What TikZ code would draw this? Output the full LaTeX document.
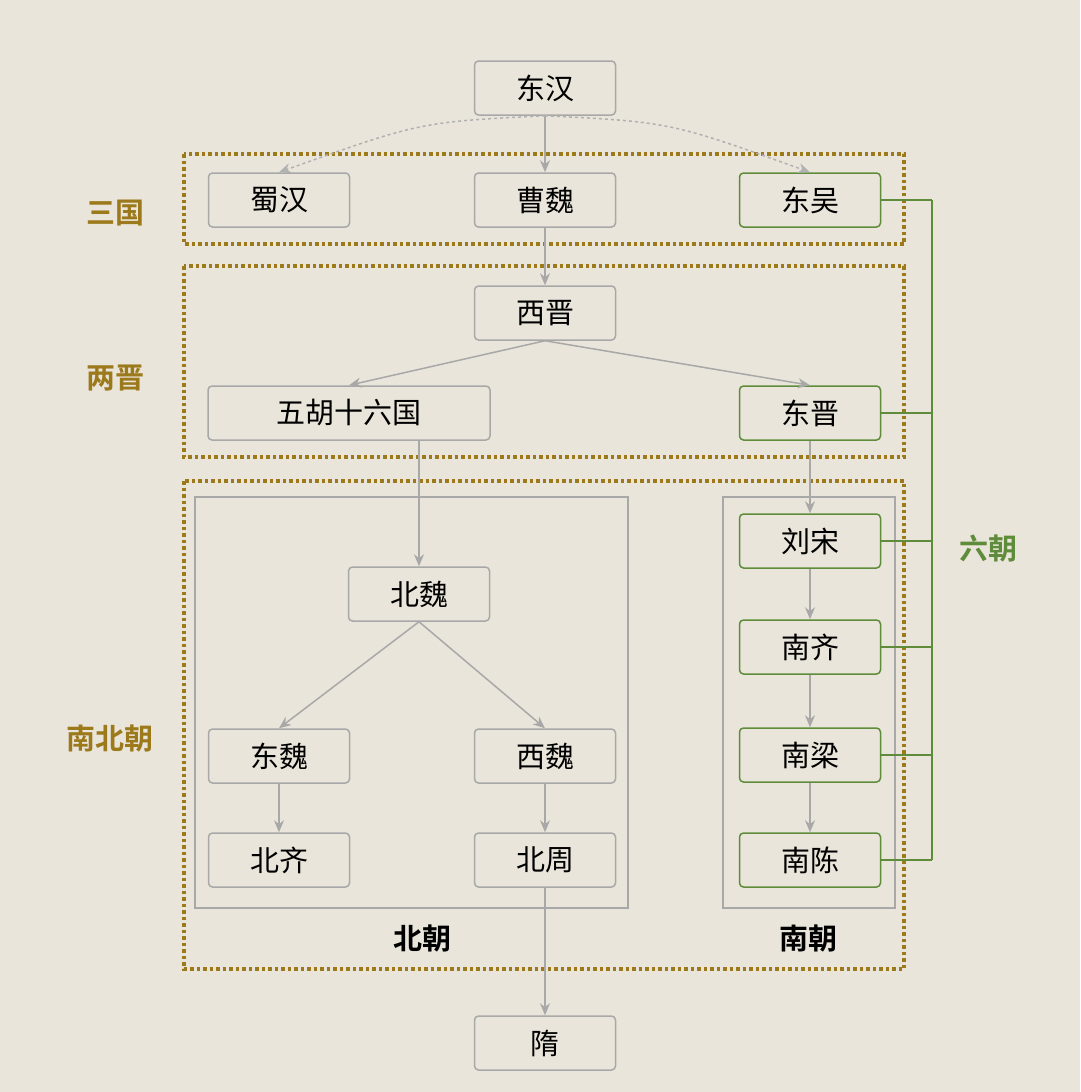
\documentclass[tikz,border=0pt]{standalone}
\usepackage{fontspec}
\setmainfont{Noto Sans CJK SC}
\newfontfamily\boldcjk{Noto Sans CJK SC Bold}
\usetikzlibrary{arrows.meta}
\definecolor{bg}{HTML}{EAE5DA}
\definecolor{olive}{HTML}{9C7A1C}
\definecolor{grn}{HTML}{5E8C3A}
\definecolor{gr}{HTML}{A8A8A8}
\tikzset{x=1pt,y=-1pt,
 box/.style={draw=gr,line width=1.5pt,rounded corners=4pt,minimum height=54pt,minimum width=141pt,font=\fontsize{29}{31}\selectfont,fill=bg},
 gbox/.style={box,draw=grn},
 arr/.style={draw=gr,line width=1.5pt,-{Stealth[length=12pt,width=10pt]}},
 dot/.style={draw=olive,line width=3.5pt,dash pattern=on 3.5pt off 3pt},
 lab/.style={font=\boldcjk\fontsize{29}{31}\selectfont,text=olive}}
\begin{document}
\begin{tikzpicture}
\fill[bg] (0,0) rectangle (1080,1092);
\useasboundingbox (0,0) rectangle (1080,1092);
\draw[dot] (184,154) rectangle (904,244);
\draw[dot] (184,266) rectangle (904,457);
\draw[dot] (184,481) rectangle (904,969);
\draw[gr,line width=1.5pt] (195,497) rectangle (628,908);
\draw[gr,line width=1.5pt] (723,497) rectangle (895,908);
\node[lab] (l1) at (115,213) {三国};
\node[lab] (l2) at (115,378) {两晋};
\node[lab] (l3) at (110,738) {南北朝};
\node[font=\boldcjk\fontsize{29}{31}\selectfont] (l4) at (422,938) {北朝};
\node[font=\boldcjk\fontsize{29}{31}\selectfont] (l5) at (808,938) {南朝};
\node[lab,text=grn] (l6) at (988,548) {六朝};
\coordinate (vt) at (932,200);
\coordinate (vb) at (932,860);
\draw[grn,line width=1.5pt] (vt)--(vb);
\node[box] (dh) at (545,88) {东汉};
\node[box] (sh) at (279,200) {蜀汉};
\node[box] (cw) at (545,200) {曹魏};
\node[gbox] (dw) at (810,200) {东吴};
\node[box] (xj) at (545,313) {西晋};
\node[box,minimum width=282pt] (wh) at (349,413) {五胡十六国};
\node[gbox] (dj) at (810,413) {东晋};
\node[box] (bw) at (419,594) {北魏};
\node[box] (dwei) at (279,756) {东魏};
\node[box] (xw) at (545,756) {西魏};
\node[box] (bq) at (279,860) {北齐};
\node[box] (bz) at (545,860) {北周};
\node[gbox] (ls) at (810,541) {刘宋};
\node[gbox] (nq) at (810,647) {南齐};
\node[gbox] (nl) at (810,755) {南梁};
\node[gbox] (nc) at (810,860) {南陈};
\node[box] (sui) at (545,1043) {隋};
\foreach \n in {dw,dj,ls,nq,nl,nc}
  \draw[grn,line width=1.5pt] (\n.east) -- (\n.east -| vt);
\draw[arr] (dh) -- (cw);
\draw[arr,dashed,draw=gr!90] (dh.south) .. controls (420,122) .. (sh.north);
\draw[arr,dashed,draw=gr!90] (dh.south) .. controls (670,122) .. (dw.north);
\draw[arr] (cw) -- (xj);
\draw[arr] (xj.south) -- (wh.north);
\draw[arr] (xj.south) -- (dj.north);
\draw[arr] (wh.south -| bw) -- (bw.north);
\draw[arr] (bw.south) -- (dwei.north);
\draw[arr] (bw.south) -- (xw.north);
\draw[arr] (dwei) -- (bq);
\draw[arr] (xw) -- (bz);
\draw[arr] (bz) -- (sui);
\draw[arr] (dj) -- (ls);
\draw[arr] (ls) -- (nq);
\draw[arr] (nq) -- (nl);
\draw[arr] (nl) -- (nc);
\end{tikzpicture}
\end{document}
